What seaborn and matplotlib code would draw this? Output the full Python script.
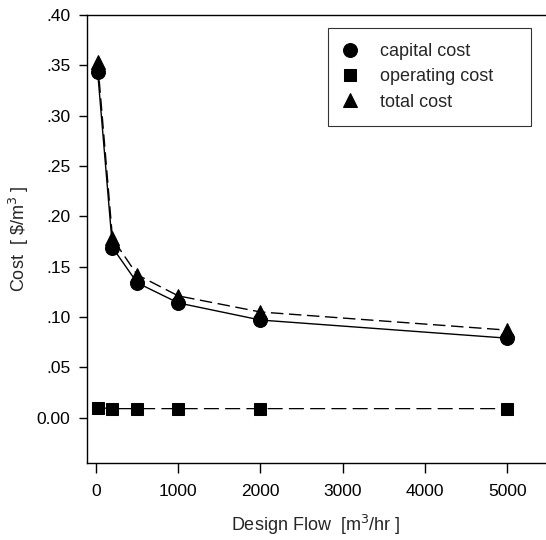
import matplotlib
matplotlib.use("Agg")
import matplotlib.pyplot as plt
import seaborn as sns
import pandas as pd
from matplotlib.ticker import FuncFormatter

flow = [20, 200, 500, 1000, 2000, 5000]
capital = [0.343, 0.169, 0.134, 0.114, 0.097, 0.079]
operating = [0.010, 0.009, 0.009, 0.009, 0.009, 0.009]
total = [0.353, 0.178, 0.142, 0.121, 0.105, 0.087]

df = pd.DataFrame({"flow": flow, "capital": capital, "operating": operating, "total": total})

sns.set_style("ticks")
plt.rcParams['font.family'] = ['Liberation Sans', 'DejaVu Sans']

fig = plt.figure(figsize=(5.46, 5.40), dpi=100)
ax = fig.add_axes([87/546, 1-463/540, 458/546, 448/540])

sns.lineplot(data=df, x="flow", y="capital", ax=ax, color="black", lw=1.0,
             marker="o", markersize=10, markeredgecolor="black", label="capital cost")
sns.lineplot(data=df, x="flow", y="operating", ax=ax, color="black", lw=0.9,
             marker="s", markersize=9, markeredgecolor="black", dashes=(12, 5),
             label="operating cost")
sns.lineplot(data=df, x="flow", y="total", ax=ax, color="black", lw=1.0,
             marker="^", markersize=10, markeredgecolor="black", dashes=(9, 4),
             label="total cost")

ax.set_xlim(-110, 5460)
ax.set_ylim(-0.045, 0.40)
ax.set_xticks([0, 1000, 2000, 3000, 4000, 5000])
ax.set_yticks([0.0, 0.05, 0.10, 0.15, 0.20, 0.25, 0.30, 0.35, 0.40])

def yfmt(v, pos):
    if abs(v) < 1e-9:
        return "0.00"
    return ("%.2f" % v)[1:]
ax.yaxis.set_major_formatter(FuncFormatter(yfmt))
ax.tick_params(axis="y", direction="out", length=6, width=1, labelsize=12.5, colors="black", pad=6)
ax.tick_params(axis="x", direction="out", length=7, width=1, labelsize=12.5, colors="black", pad=8)
for s in ["left", "bottom", "top"]:
    ax.spines[s].set_visible(True)
    ax.spines[s].set_color("black")
    ax.spines[s].set_linewidth(1.0)
ax.spines["right"].set_visible(False)

ax.set_xlabel("Design Flow  [m$^3$/hr ]", fontsize=13, labelpad=10)
ax.set_ylabel("Cost  [ \\$/m$^3$ ]", fontsize=13, labelpad=4)

leg = ax.legend(loc="upper left", bbox_to_anchor=(0.526, 0.5, 0.443, 0.471), mode="expand",
                fontsize=13, frameon=True, fancybox=False, edgecolor="black",
                handlelength=0.8, handletextpad=1.25, borderpad=0.85, labelspacing=0.45,
                borderaxespad=0)
leg.get_frame().set_linewidth(0.8)
for h in leg.get_lines():
    h.set_linestyle("none")

fig.savefig("out.png", dpi=100)
